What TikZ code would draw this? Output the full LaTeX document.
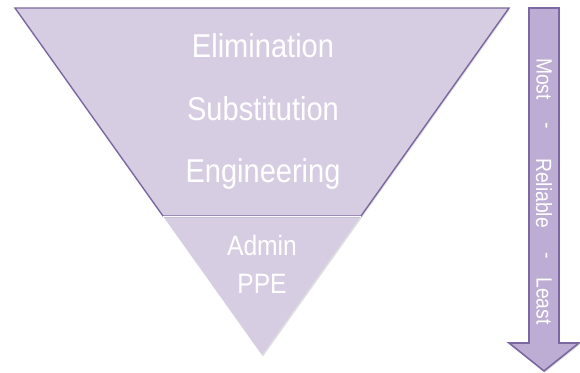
\documentclass[tikz,border=0pt]{standalone}
\usepackage{fontspec}
\setmainfont[FakeStretch=0.88]{Liberation Sans}
\usetikzlibrary{shadows}

\definecolor{lilac}{HTML}{D7CDE2}
\definecolor{lilacdark}{HTML}{7B68A0}
\definecolor{lilacmid}{HTML}{BDADD4}

\begin{document}
\begin{tikzpicture}[
    x=1pt, y=-1pt,
    shade/.style={drop shadow={opacity=0.25, shadow xshift=1pt, shadow yshift=-1.5pt}},
    upper/.style={fill=lilac, draw=lilacdark, line width=1.4pt, line join=miter},
    lower/.style={fill=lilac, draw=none},
    divider/.style={draw=white!85!lilac, line width=1pt},
    arrowbody/.style={fill=lilacmid, draw=lilacdark, line width=1.6pt, line join=miter},
    big/.style={text=white, font=\fontsize{33}{40}\selectfont, anchor=base},
    small/.style={text=white, font=\fontsize{28}{34}\selectfont, anchor=base},
    side/.style={text=white, font=\fontsize{22}{26}\selectfont, rotate=-90, inner sep=0pt}
]

\useasboundingbox (0,0) rectangle (580,372);

% Narożniki odwróconego trójkąta
\coordinate (tl) at (15,8);
\coordinate (tr) at (509,8);
\coordinate (ml) at (163,216);
\coordinate (mr) at (361,216);
\coordinate (apex) at (262,355);

% Dolny trójkąt (Admin, PPE)
\path[lower, shade] (ml) -- (mr) -- (apex) -- cycle;

% Górny trapez z obrysem
\draw[upper, shade] (tl) -- (tr) -- (mr) -- (ml) -- cycle;
\draw[divider] (ml) -- (mr);

% Strzałka po prawej stronie
\coordinate (a1) at (529,8);
\coordinate (a2) at (559,8);
\coordinate (a3) at (559,343);
\coordinate (a4) at (579,343);
\coordinate (tip) at (544,371);
\coordinate (a6) at (509,343);
\coordinate (a7) at (529,343);
\draw[arrowbody, shade] (a1) -- (a2) -- (a3) -- (a4) -- (tip) -- (a6) -- (a7) -- cycle;

% Etykiety poziomów
\node[big] (elim) at (263,57) {Elimination};
\node[big] (subst) at (263,120) {Substitution};
\node[big] (eng) at (263,182) {Engineering};
\node[small] (admin) at (262,255) {Admin};
\node[small] (ppe) at (262,293) {PPE};

% Opis na strzałce
\node[side] (most) at (544,79) {Most};
\node[side] (dash1) at (544,126) {-};
\node[side] (rel) at (544,193) {Reliable};
\node[side] (dash2) at (544,256) {-};
\node[side] (least) at (544,301) {Least};

\end{tikzpicture}
\end{document}
